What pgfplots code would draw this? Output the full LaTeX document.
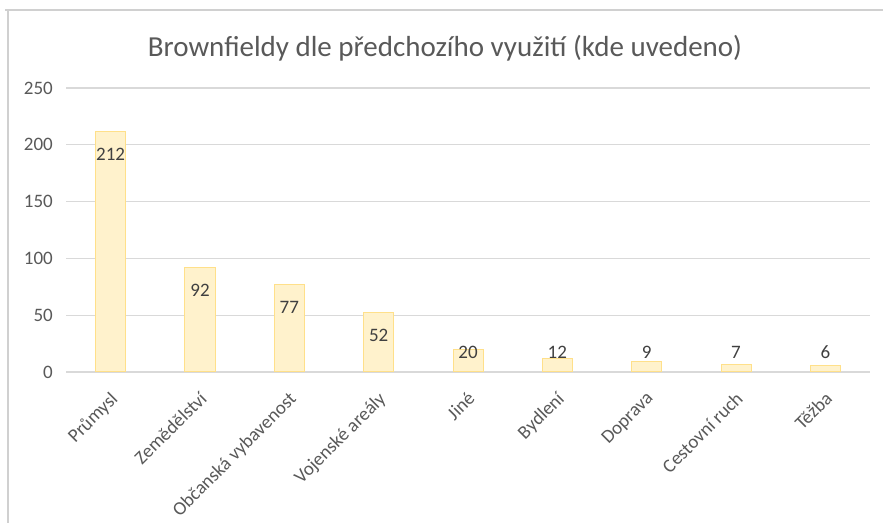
\documentclass[border=0pt]{standalone}
\usepackage{fontspec}
\setmainfont{Carlito}
\usepackage{pgfplots}
\pgfplotsset{compat=1.18}
\usepackage{pgfplotstable}
\definecolor{gridc}{HTML}{D9D9D9}
\definecolor{framec}{HTML}{D0D0D0}
\definecolor{tickc}{HTML}{595959}
\definecolor{barfill}{HTML}{FFF2CC}
\definecolor{barline}{HTML}{FFE08A}
\definecolor{labc}{HTML}{404040}
\pgfplotstableread{
x v
0 212
1 92
2 77
3 52
4 20
5 12
6 9
7 7
8 6
}\data
\begin{document}
\begin{tikzpicture}[x=1bp,y=1bp]
\path[use as bounding box] (0,0) rectangle (883,523);
\fill[white] (0,0) rectangle (883,523);
\draw[framec, line width=1.2bp] (5,513) -- (883,513);
\draw[framec, line width=1.2bp] (8,513) -- (8,0);
\node[text=tickc, font=\fontsize{29bp}{33bp}\selectfont] at (445,475) {Brownfieldy dle předchozího využití (kde uvedeno)};
\begin{axis}[
  at={(66bp,151bp)}, anchor=south west, scale only axis,
  width=804bp, height=284bp,
  xmin=-0.5, xmax=8.5, ymin=0, ymax=250,
  ytick={0,50,...,250},
  xtick={0,...,8},
  xticklabels={Průmysl,Zemědělství,Občanská vybavenost,Vojenské areály,Jiné,Bydlení,Doprava,Cestovní ruch,Těžba},
  axis line style={draw=none},
  major tick length=0pt,
  ymajorgrids, grid style={gridc, line width=1.2bp},
  /pgf/number format/assume math mode=true,
  tick label style={text=tickc, font=\fontsize{19bp}{22bp}\selectfont},
  yticklabel style={anchor=east, inner sep=0pt, xshift=-13bp},
  xticklabel style={rotate=45, anchor=north east, inner sep=0pt, xshift=-14bp, yshift=-12bp},
  clip=false,
]
\addplot[ybar, bar width=0.336, fill=barfill, draw=barline, line width=1bp] table[x=x,y=v] {\data};
\addplot[draw=none, mark=none, nodes near coords, point meta=explicit,
  nodes near coords style={anchor=center, text=labc, font=\fontsize{19bp}{22bp}\selectfont}]
  table[x=x, y expr={max(\thisrow{v}-20.2,17.6)}, meta=v] {\data};
\end{axis}
\end{tikzpicture}
\end{document}
